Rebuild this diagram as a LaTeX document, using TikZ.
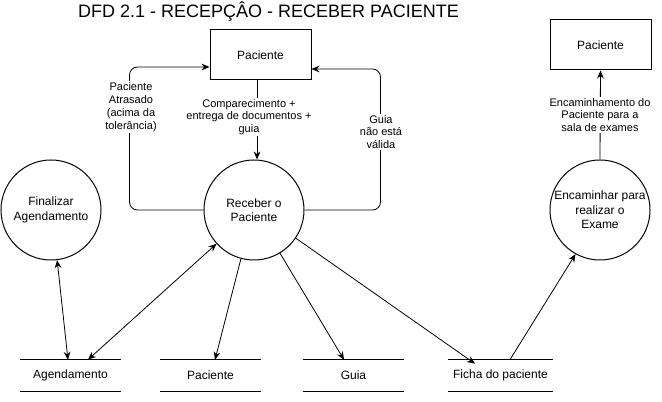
\documentclass[tikz,border=0pt]{standalone}
\usepackage{fontspec}
\setmainfont{Liberation Sans}
\usetikzlibrary{arrows.meta}

\tikzset{
  processo/.style={draw, circle, line width=0.75pt, minimum size=75pt, inner sep=0pt,
    align=center, font=\fontsize{9}{10.8}\selectfont},
  entidade/.style={draw, rectangle, line width=0.75pt, minimum width=75.75pt,
    minimum height=37.5pt, font=\fontsize{9}{10.8}\selectfont},
  deposito/.style={rectangle, minimum width=75.75pt, minimum height=23.25pt,
    font=\fontsize{9}{10.8}\selectfont},
  rotulo/.style={fill=white, align=center, inner sep=1pt, font=\fontsize{8.25}{9.6}\selectfont},
  seta/.style={line width=0.6pt, -{Stealth[length=6pt,width=5pt]}},
  setadupla/.style={line width=0.6pt, {Stealth[length=6pt,width=5pt]}-{Stealth[length=6pt,width=5pt]}},
}

\begin{document}
\begin{tikzpicture}[x=0.75pt,y=0.75pt,yscale=-1,xscale=1]
\path[use as bounding box] (0,0) rectangle (662,402);

% titulo
\node[anchor=base, font=\fontsize{13.5}{16}\selectfont] (titulo) at (268.5,18) {DFD 2.1 - RECEPÇÂO - RECEBER PACIENTE};

% processos
\node[processo] (receber) at (254,210) {Receber o\\Paciente};
\node[processo] (finalizar) at (51,210) {Finalizar\\Agendamento};
\node[processo] (encaminhar) at (600,210) {Encaminhar para\\realizar o\\Exame};

% entidades externas
\node[entidade] (pacTopo) at (260.5,55) {Paciente};
\node[entidade] (pacExame) at (600.5,45) {Paciente};

% depositos de dados
\node[deposito] (agenda) at (70.5,375.5) {Agendamento};
\node[deposito] (pacDep) at (210.5,375.5) {Paciente};
\node[deposito] (guia) at (353.5,375.5) {Guia};
\node[deposito] (ficha) at (500.5,375.5) {Ficha do paciente};
\foreach \d in {agenda,pacDep,guia,ficha}
  \draw[line width=0.75pt] (\d.north west) -- (\d.north east) (\d.south west) -- (\d.south east);

% fluxos
\draw[seta] ([xshift=-2.6pt]pacTopo.south) -- ([xshift=-2.6pt]pacTopo.south |- receber.north);
\draw[seta, rounded corners=6pt] (receber.west) -- ++(-74,0) |- ([yshift=9pt]pacTopo.west);
\draw[seta, rounded corners=6pt] (receber.east) -- ++(76,0) |- ([yshift=10.5pt]pacTopo.east);
\draw[setadupla] ([xshift=-1.9pt]agenda.north) -- (finalizar.-83);
\draw[setadupla] ([xshift=13.1pt]agenda.north) -- (receber.222);
\draw[seta] (receber.255) -- ([xshift=3.4pt]pacDep.north);
\draw[seta] (receber.301) -- ([xshift=-7.1pt]guia.north);
\draw[seta] (receber.326) -- ([xshift=-19.1pt,yshift=3pt]ficha.north);
\draw[seta] ([xshift=7.1pt]ficha.north) -- (encaminhar.241);
\draw[seta] (encaminhar.north) -- (pacExame.south);

% rotulos dos fluxos
\node[rotulo] (lblComp) at (249,117) {Comparecimento +\\entrega de documentos +\\guia};
\node[rotulo] (lblAtraso) at (131,107) {Paciente\\Atrasado\\(acima da\\tolerância)};
\node[rotulo] (lblGuia) at (381,132) {Guia\\não está\\válida};
\node[rotulo] (lblExame) at (600,115) {Encaminhamento do\\Paciente para a\\sala de exames};

\end{tikzpicture}
\end{document}
